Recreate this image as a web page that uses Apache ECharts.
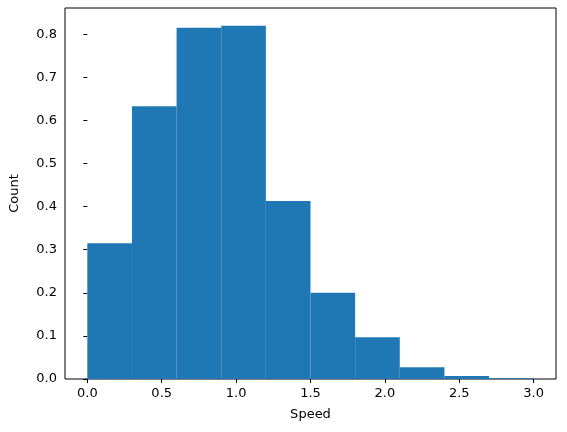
<!DOCTYPE html>
<html>
<head>
<meta charset="UTF-8">
<script src="https://cdn.jsdelivr.net/npm/echarts@6/dist/echarts.min.js"></script>
<style>body{margin:0;background:#fff}</style>
</head>
<body>
<div id="main" style="width:567px;height:432px"></div>
<script>
// histogram bins (speed) and heights
var binEdges = [0.0, 0.3, 0.6, 0.9, 1.2, 1.5, 1.8, 2.1, 2.4, 2.7, 3.0];
var counts = [0.315, 0.633, 0.815, 0.820, 0.413, 0.200, 0.097, 0.027, 0.007, 0.002];
var xTicks = [0.0, 0.5, 1.0, 1.5, 2.0, 2.5, 3.0];

var bars = counts.map(function (c, i) {
    return [binEdges[i], binEdges[i + 1], c];
});

var chart = echarts.init(document.getElementById('main'));
var axisFont = {fontFamily: 'DejaVu Sans', fontSize: 13, color: '#000'};
chart.setOption({
    animation: false,
    grid: {left: 62, right: 11, top: 8, bottom: 53, show: true, borderColor: '#000', borderWidth: 1},
    xAxis: {
        type: 'value', min: -0.15, max: 3.15, interval: 0.5,
        name: 'Speed', nameLocation: 'middle', nameGap: 29,
        nameTextStyle: axisFont,
        axisLine: {show: false},
        axisTick: {show: true, inside: false, length: 4, lineStyle: {color: '#000'}, customValues: xTicks},
        axisLabel: Object.assign({margin: 8, customValues: xTicks, formatter: function (v) { return v.toFixed(1); }}, axisFont),
        splitLine: {show: false}
    },
    yAxis: {
        type: 'value', min: 0, max: 0.861, interval: 0.1,
        name: 'Count', nameLocation: 'middle', nameGap: 44,
        nameTextStyle: axisFont,
        axisLine: {show: false},
        axisTick: {show: true, length: 4, lineStyle: {color: '#000'}},
        axisLabel: Object.assign({margin: 8, showMaxLabel: false, formatter: function (v) { return v.toFixed(1); }}, axisFont),
        splitLine: {show: false}
    },
    series: [{
        type: 'custom',
        data: bars,
        renderItem: function (params, api) {
            var p0 = api.coord([api.value(0), api.value(2)]);
            var p1 = api.coord([api.value(1), 0]);
            return {
                type: 'rect',
                shape: {x: p0[0], y: p0[1], width: p1[0] - p0[0], height: p1[1] - p0[1]},
                style: {fill: '#1f77b4'}
            };
        }
    }]
});
</script>
</body>
</html>
